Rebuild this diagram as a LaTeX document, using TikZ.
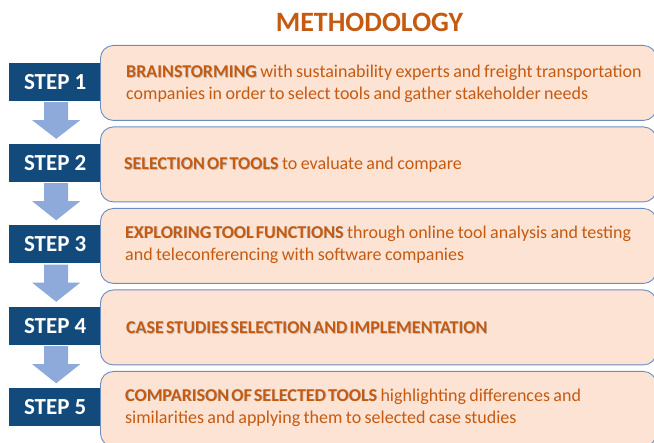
\documentclass[tikz,border=0pt]{standalone}
\usepackage{fontspec}
\setmainfont{Carlito}
\usetikzlibrary{calc}
\definecolor{stepblue}{HTML}{124A7C}
\definecolor{arrowblue}{HTML}{8EAADB}
\definecolor{boxfill}{HTML}{FDE3D3}
\definecolor{boxline}{HTML}{6A8CC2}
\definecolor{txtorange}{HTML}{C55A11}
\newcommand{\shb}[1]{{\fontsize{18}{22}\selectfont\spaceskip=0.12em\relax\rlap{\hspace{0.8pt}\raisebox{-0.8pt}{\color{black!25}\textbf{#1}}}\textbf{#1}}}
\newcommand{\dsc}{\fontsize{18}{22}\selectfont\spaceskip=0.19em plus 0.02em\relax}
\tikzset{
  stepbox/.style={fill=stepblue, text=white, font=\fontsize{23}{26}\selectfont\bfseries,
    minimum width=92pt, minimum height=38pt, inner sep=0pt, anchor=west},
  descbox/.style={fill=boxfill, draw=boxline, line width=0.9pt, rounded corners=13pt,
    minimum width=556pt, minimum height=75pt, anchor=north west, inner sep=0pt},
  desctext/.style={text=txtorange, font=\fontsize{18}{22}\selectfont, align=left,
    anchor=west, inner sep=0pt, text width=560pt},
  downarrow/.style={fill=arrowblue},
}
\begin{document}
\begin{tikzpicture}[x=1pt,y=-1pt]
\useasboundingbox (0,0) rectangle (654,443);
\clip (0,0) rectangle (654,443);
\node[text=txtorange, font=\fontsize{28}{32}\selectfont\bfseries] (title) at (369.5,22.5) {METHODOLOGY};
% steps
\foreach \i/\c in {1/82.5, 2/163.5, 3/245, 4/326.5, 5/408}{
  \node[stepbox] (s\i) at (9,\c-0.5) {STEP \i};
}
% arrows
\foreach \a/\b in {s1/s2, s2/s3, s3/s4, s4/s5}{
  \fill[downarrow] ($(\a.south)+(-11,1)$) -- ($(\a.south)+(13,1)$) -- ($(\a.south)+(13,19)$)
    -- ($(\a.south)+(25,19)$) -- ($(\b.north)+(1,-5)$) -- ($(\a.south)+(-23,19)$)
    -- ($(\a.south)+(-11,19)$) -- cycle;
}
% boxes
\node[descbox] (b1) at (100,45) {};
\node[descbox] (b2) at (100,126.5) {};
\node[descbox] (b3) at (100,208) {};
\node[descbox] (b4) at (100,289.5) {};
\node[descbox] (b5) at (100,371) {};
\node[desctext] (t1) at (126,84) {\dsc\shb{BRAINSTORMING} with sustainability experts and freight transportation\\companies in order to select tools and gather stakeholder needs};
\node[desctext] (t2) at (124,165) {\dsc\shb{SELECTION OF TOOLS} to evaluate and compare};
\node[desctext] (t3) at (125,244.5) {\dsc\shb{EXPLORING TOOL FUNCTIONS} through online tool analysis and testing\\and teleconferencing with software companies};
\node[desctext] (t4) at (126,328) {\dsc\shb{CASE STUDIES SELECTION AND IMPLEMENTATION}};
\node[desctext] (t5) at (125,407.5) {\dsc\shb{COMPARISON OF SELECTED TOOLS} highlighting differences and\\similarities and applying them to selected case studies};
\end{tikzpicture}
\end{document}
